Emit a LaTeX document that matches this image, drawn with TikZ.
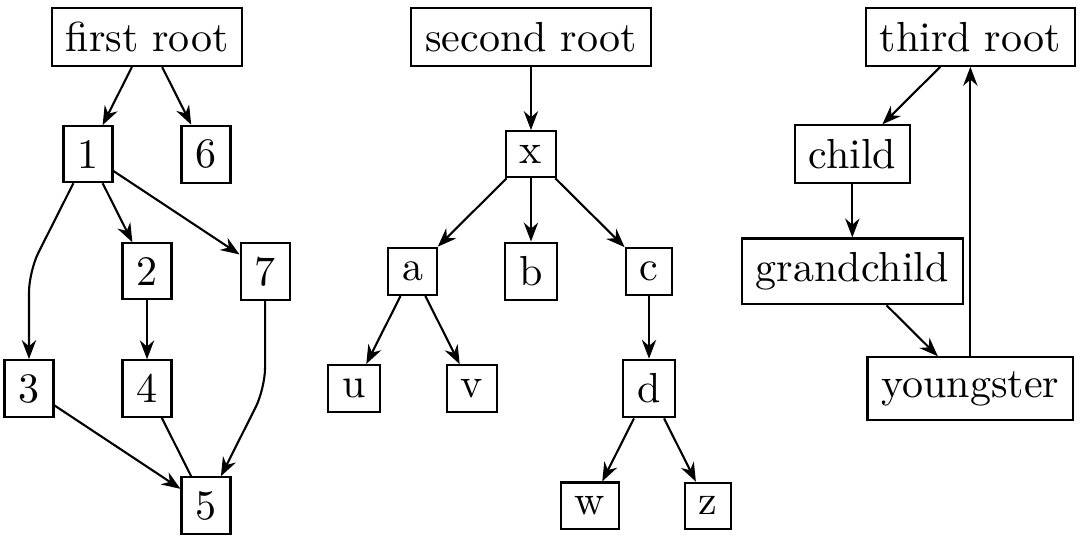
\documentclass[tikz,border=0pt]{standalone}
\usetikzlibrary{positioning,arrows.meta}

\begin{document}
\begin{tikzpicture}[node distance=27.9pt and 14.05pt,on grid,line width=0.5pt,
  >={Stealth[length=4.5pt,width=3.4pt]},
  box/.style={draw}]
  \useasboundingbox (0,0) rectangle (257.1pt,-128.6pt);
  % first root
  \node[box] (first) at (35pt,-8.8pt) {first root};
  \node[box,below left=of first] (n1) {1};
  \node[box,below right=of first] (n6) {6};
  \node[box,below right=of n1] (n2) {2};
  \node[box,below right=27.9pt and 42.15pt of n1] (n7) {7};
  \node[box,below left=55.8pt and 14.05pt of n1] (n3) {3};
  \node[box,below=of n2] (n4) {4};
  \node[box,below right=of n4] (n5) {5};
  \coordinate[above=of n3] (bend13);
  \coordinate[below=of n7] (bend75);
  % second root
  \node[box] (second) at (126.4pt,-8.8pt) {second root};
  \node[box,below=of second] (x) {x};
  \node[box,below left=27.9pt and 28.1pt of x] (a) {a};
  \node[box,below=of x] (b) {b};
  \node[box,below right=27.9pt and 28.1pt of x] (c) {c};
  \node[box,below left=of a] (u) {u};
  \node[box,below right=of a] (v) {v};
  \node[box,below=of c] (d) {d};
  \node[box,below left=of d] (w) {w};
  \node[box,below right=of d] (z) {z};
  % third root
  \node[box] (third) at (231pt,-8.8pt) {third root};
  \node[box,below left=27.9pt and 28.1pt of third] (child) {child};
  \node[box,below=of child] (grandchild) {grandchild};
  \node[box,below right=27.9pt and 28.1pt of grandchild] (youngster) {youngster};

  \path[->] (first) edge (n1) edge (n6)
    (n1) edge (n2) edge (n7)
    (n2) edge (n4)
    (n3) edge (n5)
    (n4) edge[-] (n5);
  \draw[->,rounded corners=5pt] (n1) -- (bend13) -- (n3);
  \draw[->,rounded corners=5pt] (n7) -- (bend75) -- (n5);
  \path[->] (second) edge (x)
    (x) edge (a) edge (b) edge (c)
    (a) edge (u) edge (v)
    (c) edge (d)
    (d) edge (w) edge (z);
  \path[->] (third) edge (child)
    (child) edge (grandchild)
    (grandchild) edge (youngster)
    (youngster) edge (third);
\end{tikzpicture}
\end{document}
